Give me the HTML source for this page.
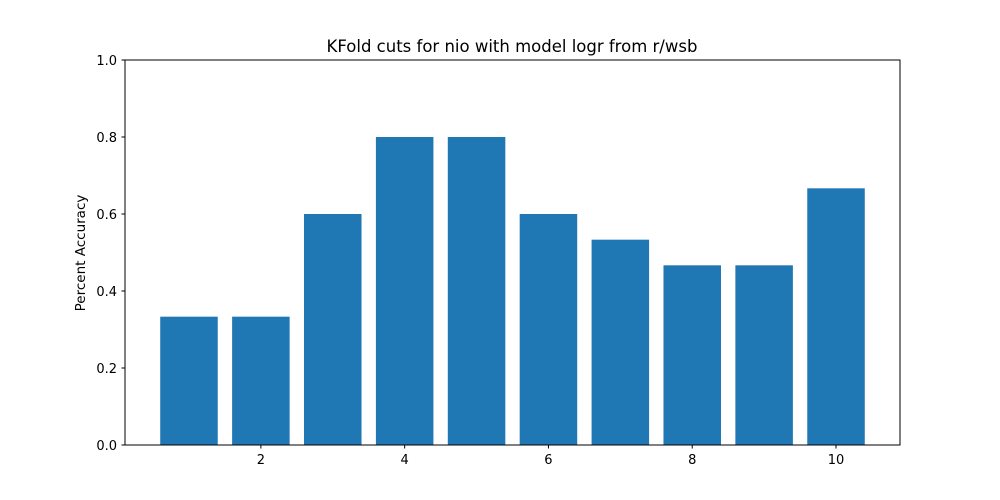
<!DOCTYPE html>
<html><head><meta charset="utf-8"><style>
body{margin:0;background:#fff;}
svg{display:block;font-family:"DejaVu Sans","Liberation Sans",sans-serif;}
</style></head><body>
<svg id="chart" width="1000" height="500">
<rect width="1000" height="500" fill="#fff"/>
<text x="512" y="52" text-anchor="middle" font-size="16.5" fill="#000">KFold cuts for nio with model logr from r/wsb</text>
<text transform="translate(85,253) rotate(-90)" text-anchor="middle" font-size="13.5">Percent Accuracy</text>
<g id="bars"></g><g id="ticks"></g>
<rect x="125" y="60" width="775" height="385" fill="none" stroke="#000" stroke-width="1"/>
</svg>
<script>
const categories=[1,2,3,4,5,6,7,8,9,10];
const accuracy=[0.3333,0.3333,0.6,0.8,0.8,0.6,0.5333,0.4667,0.4667,0.6667];
const xTicks=[2,4,6,8,10];
const yTicks=[0.0,0.2,0.4,0.6,0.8,1.0];
const L=125,R=900,T=60,B=445,xmin=0.11,xmax=10.89,ymin=0,ymax=1;
const sx=v=>L+(v-xmin)/(xmax-xmin)*(R-L);
const sy=v=>B-(v-ymin)/(ymax-ymin)*(B-T);
const NS="http://www.w3.org/2000/svg";
const bars=document.getElementById('bars'),ticks=document.getElementById('ticks');
categories.forEach((c,i)=>{
 const r=document.createElementNS(NS,'rect');
 const x0=sx(c-0.4),x1=sx(c+0.4);
 r.setAttribute('x',x0);r.setAttribute('width',x1-x0);
 r.setAttribute('y',sy(accuracy[i]));r.setAttribute('height',sy(0)-sy(accuracy[i]));
 r.setAttribute('fill','#1f77b4');
 
 
 bars.appendChild(r);
});
xTicks.forEach(t=>{
 const x=sx(t);
 const l=document.createElementNS(NS,'line');
 l.setAttribute('x1',x);l.setAttribute('x2',x);l.setAttribute('y1',B);l.setAttribute('y2',B+3.5);l.setAttribute('stroke','#000');
 
 
 ticks.appendChild(l);
 const tx=document.createElementNS(NS,'text');
 tx.setAttribute('x',x);tx.setAttribute('y',B+19);tx.setAttribute('text-anchor','middle');tx.setAttribute('font-size','13');
 tx.textContent=t;
 
 
 ticks.appendChild(tx);
});
yTicks.forEach(t=>{
 const y=sy(t);
 const l=document.createElementNS(NS,'line');
 l.setAttribute('x1',L-3.5);l.setAttribute('x2',L);l.setAttribute('y1',y);l.setAttribute('y2',y);l.setAttribute('stroke','#000');
 
 
 ticks.appendChild(l);
 const tx=document.createElementNS(NS,'text');
 tx.setAttribute('x',L-8);tx.setAttribute('y',y+5);tx.setAttribute('text-anchor','end');tx.setAttribute('font-size','13');
 tx.textContent=t.toFixed(1);
 
 
 ticks.appendChild(tx);
});
</script>
</body></html>
